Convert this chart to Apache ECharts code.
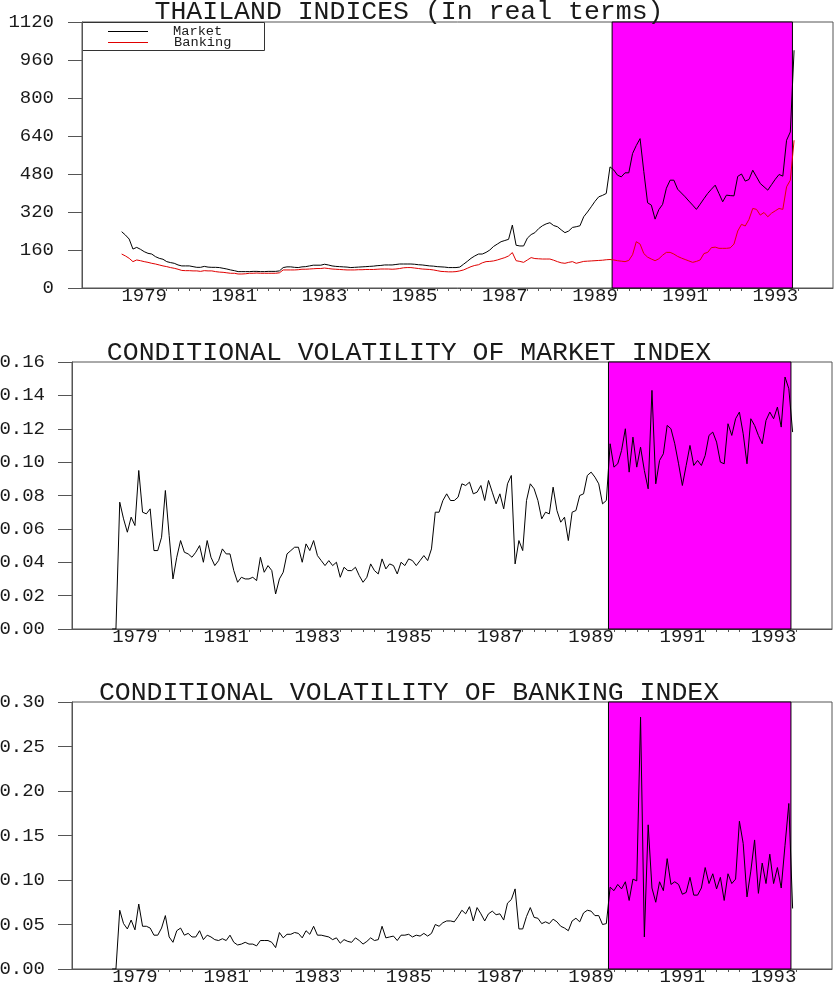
<!DOCTYPE html>
<html>
<head>
<meta charset="utf-8">
<script src="https://cdn.jsdelivr.net/npm/echarts@6/dist/echarts.min.js"></script>
<style>
  html, body { margin: 0; padding: 0; background: #fff; }
  #chart { width: 834px; height: 990px; }
</style>
</head>
<body>
<div id="chart"></div>
<script>
// Monthly observations, January 1979 onwards
const startYear = 1979;

// Real market index
const marketIndex = [
  237,223,206,164,171,163,153,146,143,132,
  125,121,111,107,104,97,93,93,93,90,
  87,87,91,88,87,87,86,83,80,76,
  73,69,69,69,69,70,70,69,69,70,
  70,70,72,86,89,89,87,86,89,90,
  93,96,96,96,100,97,93,91,90,89,
  88,86,87,88,89,90,91,92,94,95,
  97,97,97,99,101,101,101,101,100,98,
  97,95,93,92,90,89,88,86,86,86,
  88,100,112,125,135,143,143,150,160,175,
  185,195,200,205,265,180,177,177,210,225,
  233,250,262,270,275,263,258,245,233,240,
  255,258,262,300,320,342,365,384,390,398,
  510,497,475,468,485,485,566,600,629,490,
  359,349,290,330,352,420,454,454,416,400,
  384,366,349,331,353,376,398,416,433,398,
  363,391,389,388,470,480,450,457,496,468,
  440,426,412,435,458,478,471,622,657,1001
];

// Real banking index
const bankingIndex = [
  143,135,125,111,118,115,111,108,104,101,
  97,93,90,86,83,79,74,73,73,72,
  72,70,73,72,72,69,67,66,64,62,
  62,59,59,60,62,62,63,62,62,62,
  62,62,64,76,76,76,76,77,79,79,
  80,81,82,82,84,82,80,79,78,77,
  76,76,76,77,77,78,78,78,79,80,
  80,80,79,80,82,85,86,86,84,82,
  80,79,78,76,73,70,69,68,68,69,
  72,76,83,90,95,98,106,111,112,114,
  118,123,128,135,149,115,112,108,118,128,
  124,123,122,122,122,117,111,106,104,108,
  111,104,108,112,113,114,115,116,117,119,
  120,118,115,113,111,116,140,195,185,145,
  130,122,115,123,138,150,150,143,133,126,
  120,114,108,112,118,145,150,170,172,167,
  167,167,169,185,240,268,261,289,335,331,
  307,318,300,315,325,335,331,426,454,622
];

// Conditional volatility of the market index
const marketVol = [
  0,0,0.076,0.066,0.058,0.067,0.062,0.095,0.070,0.069,
  0.072,0.047,0.047,0.055,0.083,0.056,0.030,0.043,0.053,0.046,
  0.045,0.043,0.046,0.050,0.040,0.053,0.043,0.038,0.041,0.048,
  0.045,0.045,0.035,0.028,0.031,0.030,0.030,0.031,0.029,0.043,
  0.034,0.038,0.035,0.021,0.030,0.034,0.045,0.047,0.049,0.049,
  0.040,0.051,0.047,0.053,0.044,0.041,0.038,0.041,0.038,0.040,
  0.031,0.037,0.035,0.035,0.037,0.032,0.028,0.031,0.039,0.035,
  0.033,0.042,0.036,0.039,0.038,0.033,0.040,0.038,0.042,0.041,
  0.038,0.041,0.044,0.041,0.048,0.070,0.070,0.077,0.081,0.077,
  0.077,0.079,0.087,0.086,0.088,0.081,0.082,0.086,0.077,0.089,
  0.082,0.075,0.081,0.072,0.087,0.092,0.039,0.053,0.047,0.077,
  0.087,0.084,0.077,0.066,0.070,0.069,0.085,0.071,0.064,0.067,
  0.053,0.070,0.071,0.080,0.081,0.092,0.094,0.091,0.087,0.075,
  0.077,0.111,0.097,0.099,0.107,0.120,0.094,0.115,0.097,0.109,
  0.095,0.084,0.143,0.087,0.101,0.105,0.122,0.120,0.111,0.099,
  0.086,0.098,0.110,0.098,0.101,0.098,0.104,0.116,0.118,0.112,
  0.100,0.099,0.123,0.116,0.126,0.130,0.117,0.099,0.126,0.122,
  0.116,0.111,0.125,0.130,0.126,0.133,0.121,0.151,0.144,0.118
];

// Conditional volatility of the banking index
const bankingVol = [
  0,0,0.066,0.051,0.045,0.055,0.044,0.073,0.048,0.048,
  0.046,0.038,0.038,0.046,0.060,0.036,0.030,0.043,0.046,0.038,
  0.040,0.036,0.036,0.043,0.033,0.038,0.036,0.033,0.032,0.034,
  0.032,0.038,0.030,0.027,0.028,0.030,0.028,0.028,0.026,0.032,
  0.032,0.032,0.030,0.024,0.041,0.035,0.039,0.039,0.041,0.040,
  0.035,0.043,0.039,0.048,0.038,0.038,0.037,0.036,0.033,0.035,
  0.029,0.033,0.031,0.030,0.035,0.032,0.028,0.031,0.035,0.032,
  0.033,0.048,0.035,0.036,0.037,0.032,0.038,0.038,0.039,0.036,
  0.038,0.037,0.040,0.037,0.040,0.050,0.048,0.052,0.054,0.054,
  0.053,0.059,0.066,0.062,0.070,0.054,0.069,0.062,0.054,0.062,
  0.065,0.061,0.062,0.055,0.074,0.078,0.090,0.045,0.045,0.059,
  0.069,0.058,0.057,0.051,0.053,0.051,0.056,0.053,0.048,0.046,
  0.043,0.054,0.057,0.053,0.063,0.066,0.065,0.060,0.060,0.050,
  0.051,0.092,0.088,0.095,0.090,0.098,0.077,0.101,0.099,0.283,
  0.036,0.162,0.091,0.075,0.098,0.088,0.124,0.095,0.098,0.095,
  0.084,0.086,0.103,0.083,0.083,0.091,0.114,0.096,0.107,0.090,
  0.103,0.077,0.107,0.096,0.101,0.166,0.141,0.081,0.110,0.145,
  0.085,0.119,0.096,0.129,0.096,0.114,0.091,0.139,0.186,0.068
];

// Labelled years (each label spans its own year) and the shaded period
const labelYears = [1979, 1981, 1983, 1985, 1987, 1989, 1991, 1993];
const shadedPeriod = [1989.88, 1993.88];
const timeRange = [1978.12, 1994.78];

const FONT = "'Liberation Mono', 'Courier New', 'DejaVu Sans Mono', monospace";
const AXIS_COLOR = '#555';
const TEXT_COLOR = '#1a1a1a';

const toPairs = arr => arr.map((v, i) => [startYear + i / 12, v]);

// quarterly ticks on the unlabelled years, plus the year mark after the last label
const quarterTicks = [];
labelYears.forEach((y, k) => {
  if (k < labelYears.length - 1) {
    [0, 0.25, 0.5, 0.75].forEach(q => quarterTicks.push(y + 1 + q));
  } else {
    quarterTicks.push(y + 1);
  }
});

function makeXAxis(gridIndex) {
  return {
    gridIndex, type: 'value', min: timeRange[0], max: timeRange[1],
    axisLine: { show: true, lineStyle: { color: AXIS_COLOR, width: 1 } },
    splitLine: { show: false },
    axisTick: { show: true, length: 3, customValues: quarterTicks, lineStyle: { color: AXIS_COLOR } },
    axisLabel: {
      customValues: labelYears.map(y => y + 0.5),
      formatter: v => String(Math.floor(v)),
      margin: -2, fontFamily: FONT, fontSize: 19, color: TEXT_COLOR
    }
  };
}

function makeYAxis(gridIndex, max, interval, digits, margin) {
  return {
    gridIndex, type: 'value', min: 0, max, interval,
    axisLine: { show: true, lineStyle: { color: AXIS_COLOR, width: 1 } },
    axisTick: { show: true, length: 14, lineStyle: { color: AXIS_COLOR } },
    splitLine: { show: false },
    axisLabel: {
      margin, fontFamily: FONT, fontSize: 19, color: TEXT_COLOR,
      formatter: v => v.toFixed(digits)
    }
  };
}

const shade = {
  silent: true,
  itemStyle: { color: '#ff00ff', opacity: 1, borderColor: '#000', borderWidth: 1 },
  data: [[{ xAxis: shadedPeriod[0] }, { xAxis: shadedPeriod[1] }]]
};

function lineSeries(name, data, gi, color, withShade) {
  const s = {
    name, type: 'line', xAxisIndex: gi, yAxisIndex: gi,
    data: toPairs(data), showSymbol: false, symbol: 'none',
    lineStyle: { color, width: 1 }, itemStyle: { color },
    z: 3
  };
  if (withShade) s.markArea = shade;
  return s;
}

function titleText(text, y) {
  return {
    type: 'text', x: 409, y, z: 10,
    style: {
      text, fill: TEXT_COLOR, font: '26.5px ' + FONT,
      align: 'center', verticalAlign: 'bottom',
      textAlign: 'center', textVerticalAlign: 'bottom'
    }
  };
}

const gridBase = {
  show: true, borderColor: AXIS_COLOR, borderWidth: 1,
  backgroundColor: 'transparent', containLabel: false, outerBoundsMode: 'none'
};

const chart = echarts.init(document.getElementById('chart'), null, { renderer: 'canvas' });

chart.setOption({
  animation: false,
  backgroundColor: '#fff',
  grid: [
    Object.assign({ left: 82, top: 22, width: 751, height: 266 }, gridBase),
    Object.assign({ left: 72, top: 362, width: 760, height: 267 }, gridBase),
    Object.assign({ left: 72, top: 702, width: 760, height: 267 }, gridBase)
  ],
  xAxis: [makeXAxis(0), makeXAxis(1), makeXAxis(2)],
  yAxis: [
    makeYAxis(0, 1120, 160, 0, 28),
    makeYAxis(1, 0.16, 0.02, 2, 27),
    makeYAxis(2, 0.30, 0.05, 2, 27)
  ],
  series: [
    lineSeries('Market', marketIndex, 0, '#000', true),
    lineSeries('Banking', bankingIndex, 0, '#e00000', false),
    lineSeries('Market volatility', marketVol, 1, '#000', true),
    lineSeries('Banking volatility', bankingVol, 2, '#000', true)
  ],
  graphic: [
    titleText('THAILAND INDICES (In real terms)', 25),
    titleText('CONDITIONAL VOLATILITY OF MARKET INDEX', 366),
    titleText('CONDITIONAL VOLATILITY OF BANKING INDEX', 706),
    {
      type: 'group', z: 20,
      children: [
        { type: 'rect', shape: { x: 82.5, y: 22.5, width: 182, height: 28 },
          style: { fill: '#fff', stroke: '#333', lineWidth: 1 } },
        { type: 'line', shape: { x1: 108, y1: 31.5, x2: 148, y2: 31.5 },
          style: { stroke: '#000', lineWidth: 1 } },
        { type: 'line', shape: { x1: 108, y1: 42.5, x2: 148, y2: 42.5 },
          style: { stroke: '#e00000', lineWidth: 1 } },
        { type: 'text', x: 173, y: 31,
          style: { text: 'Market', fill: TEXT_COLOR, font: '13.7px ' + FONT, verticalAlign: 'middle', textVerticalAlign: 'middle' } },
        { type: 'text', x: 174, y: 42,
          style: { text: 'Banking', fill: TEXT_COLOR, font: '13.7px ' + FONT, verticalAlign: 'middle', textVerticalAlign: 'middle' } }
      ]
    }
  ]
});
</script>
</body>
</html>
